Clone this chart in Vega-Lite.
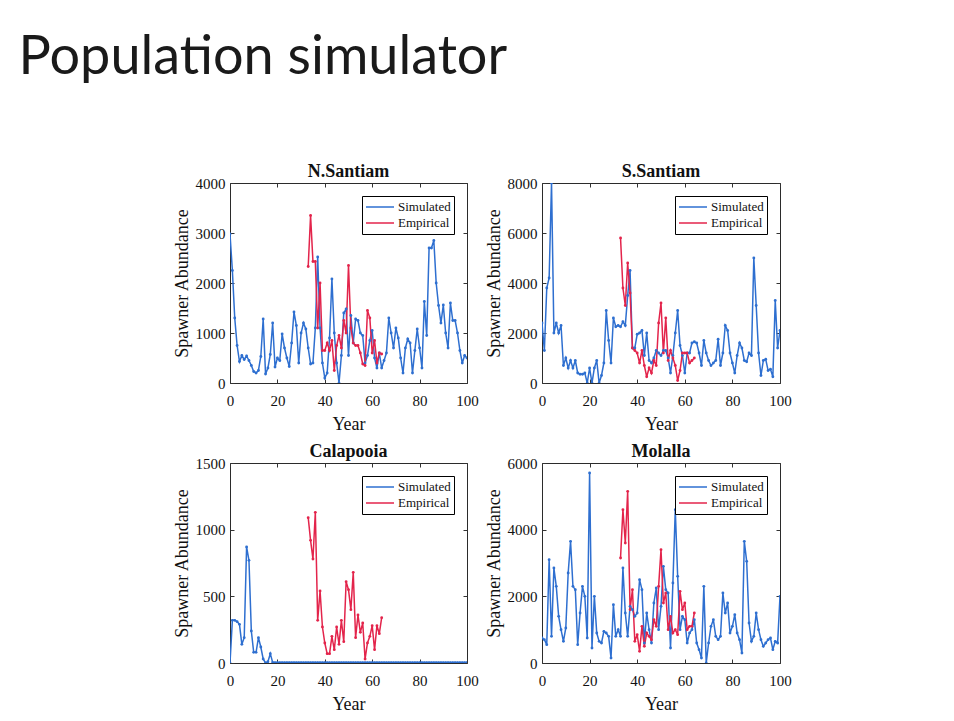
{
"$schema": "https://vega.github.io/schema/vega-lite/v6.json",
"background": "white",
"padding": {"left": 18, "top": 30, "right": 5, "bottom": 5},
"title": {"text": "Population simulator", "anchor": "start", "font": "Lato", "fontSize": 54, "fontWeight": "normal", "color": "#1a1a1a", "dx": -154, "offset": 78, "frame": "bounds"},
"config": {
 "font": "Liberation Serif",
 "view": {"stroke": "#2b2b2b", "strokeWidth": 1},
 "axis": {"grid": false, "domain": false, "format": "d", "labelFlush": false, "labelFont": "Liberation Serif", "labelFontSize": 15, "labelColor": "#111", "titleFont": "Liberation Serif", "titleFontSize": 18, "titleFontWeight": "normal", "titleColor": "#111", "tickColor": "#333", "tickSize": -4},
 "axisX": {"labelPadding": 14, "titlePadding": 7},
 "axisY": {"labelPadding": 9, "titlePadding": 4},
 "title": {"font": "Liberation Serif", "fontSize": 18, "fontWeight": "bold", "color": "#111", "offset": -5},
 "legend": {"orient": "top-right", "offset": 13, "strokeColor": "#000", "fillColor": "#fff", "padding": 3, "labelFont": "Liberation Serif", "labelFontSize": 13, "labelColor": "#111", "symbolType": "stroke", "symbolSize": 784, "symbolStrokeWidth": 1.5, "clipHeight": 16, "rowPadding": 0, "titlePadding": 0, "labelOffset": 3, "cornerRadius": 0}
},
"datasets": {
"ns": [
{"year":0,"Simulated":2980},{"year":1,"Simulated":2250},{"year":2,"Simulated":1300},{"year":3,"Simulated":750},{"year":4,"Simulated":430},{"year":5,"Simulated":550},{"year":6,"Simulated":470},{"year":7,"Simulated":540},{"year":8,"Simulated":450},{"year":9,"Simulated":350},
{"year":10,"Simulated":230},{"year":11,"Simulated":200},{"year":12,"Simulated":250},{"year":13,"Simulated":530},{"year":14,"Simulated":1280},{"year":15,"Simulated":180},{"year":16,"Simulated":300},{"year":17,"Simulated":570},{"year":18,"Simulated":1200},{"year":19,"Simulated":320},
{"year":20,"Simulated":500},{"year":21,"Simulated":450},{"year":22,"Simulated":980},{"year":23,"Simulated":700},{"year":24,"Simulated":500},{"year":25,"Simulated":330},{"year":26,"Simulated":800},{"year":27,"Simulated":1420},{"year":28,"Simulated":1150},{"year":29,"Simulated":400},
{"year":30,"Simulated":1000},{"year":31,"Simulated":1200},{"year":32,"Simulated":1080},{"year":33,"Simulated":700,"Empirical":2330},{"year":34,"Simulated":380,"Empirical":3350},{"year":35,"Simulated":400,"Empirical":2430},{"year":36,"Simulated":1100,"Empirical":2430},{"year":37,"Simulated":2520,"Empirical":1100},{"year":38,"Simulated":1100,"Empirical":2000},{"year":39,"Simulated":400,"Empirical":650},
{"year":40,"Simulated":100,"Empirical":650},{"year":41,"Simulated":200,"Empirical":800},{"year":42,"Simulated":900,"Empirical":650},{"year":43,"Simulated":2080,"Empirical":850},{"year":44,"Simulated":1000,"Empirical":250},{"year":45,"Simulated":400,"Empirical":750},{"year":46,"Simulated":0,"Empirical":950},{"year":47,"Simulated":550,"Empirical":700},{"year":48,"Simulated":1400,"Empirical":1250},{"year":49,"Simulated":1480,"Empirical":1000},
{"year":50,"Simulated":550,"Empirical":2350},{"year":51,"Simulated":1350,"Empirical":1100},{"year":52,"Simulated":800,"Empirical":800},{"year":53,"Simulated":1280,"Empirical":750},{"year":54,"Simulated":1250,"Empirical":750},{"year":55,"Simulated":1000,"Empirical":600},{"year":56,"Simulated":950,"Empirical":380},{"year":57,"Simulated":400,"Empirical":350},{"year":58,"Simulated":550,"Empirical":1450},{"year":59,"Simulated":850,"Empirical":1300},
{"year":60,"Simulated":1050,"Empirical":600},{"year":61,"Simulated":500,"Empirical":850},{"year":62,"Simulated":300,"Empirical":400},{"year":63,"Simulated":600,"Empirical":600},{"year":64,"Simulated":300,"Empirical":580},{"year":65,"Simulated":450},{"year":66,"Simulated":600},{"year":67,"Simulated":1300},{"year":68,"Simulated":1000},{"year":69,"Simulated":700},
{"year":70,"Simulated":1100},{"year":71,"Simulated":900},{"year":72,"Simulated":500},{"year":73,"Simulated":200},{"year":74,"Simulated":700},{"year":75,"Simulated":880},{"year":76,"Simulated":800},{"year":77,"Simulated":200},{"year":78,"Simulated":650},{"year":79,"Simulated":1080},
{"year":80,"Simulated":700},{"year":81,"Simulated":300},{"year":82,"Simulated":1630},{"year":83,"Simulated":950},{"year":84,"Simulated":2700},{"year":85,"Simulated":2700},{"year":86,"Simulated":2850},{"year":87,"Simulated":2000},{"year":88,"Simulated":1550},{"year":89,"Simulated":1200},
{"year":90,"Simulated":1560},{"year":91,"Simulated":1000},{"year":92,"Simulated":700},{"year":93,"Simulated":1600},{"year":94,"Simulated":1250},{"year":95,"Simulated":1250},{"year":96,"Simulated":1000},{"year":97,"Simulated":650},{"year":98,"Simulated":400},{"year":99,"Simulated":550},{"year":100,"Simulated":500}
],
"ss": [
{"year":0,"Simulated":2400},{"year":1,"Simulated":1300},{"year":2,"Simulated":3800},{"year":3,"Simulated":4200},{"year":4,"Simulated":8000},{"year":5,"Simulated":2000},{"year":6,"Simulated":2400},{"year":7,"Simulated":2000},{"year":8,"Simulated":2300},{"year":9,"Simulated":700},
{"year":10,"Simulated":1000},{"year":11,"Simulated":600},{"year":12,"Simulated":900},{"year":13,"Simulated":600},{"year":14,"Simulated":900},{"year":15,"Simulated":400},{"year":16,"Simulated":350},{"year":17,"Simulated":350},{"year":18,"Simulated":400},{"year":19,"Simulated":0},
{"year":20,"Simulated":600},{"year":21,"Simulated":0},{"year":22,"Simulated":600},{"year":23,"Simulated":900},{"year":24,"Simulated":0},{"year":25,"Simulated":300},{"year":26,"Simulated":800},{"year":27,"Simulated":2900},{"year":28,"Simulated":1700},{"year":29,"Simulated":800},
{"year":30,"Simulated":2600},{"year":31,"Simulated":2250},{"year":32,"Simulated":2300},{"year":33,"Simulated":2250,"Empirical":5800},{"year":34,"Simulated":2450,"Empirical":3800},{"year":35,"Simulated":2300,"Empirical":3100},{"year":36,"Simulated":3500,"Empirical":4800},{"year":37,"Simulated":4500,"Empirical":3600},{"year":38,"Simulated":1400,"Empirical":1400},{"year":39,"Simulated":1400,"Empirical":1300},
{"year":40,"Simulated":1950,"Empirical":1200},{"year":41,"Simulated":2000,"Empirical":800},{"year":42,"Simulated":2100,"Empirical":1300},{"year":43,"Simulated":1100,"Empirical":700},{"year":44,"Simulated":2000,"Empirical":250},{"year":45,"Simulated":900,"Empirical":600},{"year":46,"Simulated":800,"Empirical":400},{"year":47,"Simulated":1000,"Empirical":900},{"year":48,"Simulated":1300,"Empirical":700},{"year":49,"Simulated":1200,"Empirical":2400},
{"year":50,"Simulated":1100,"Empirical":3200},{"year":51,"Simulated":1300,"Empirical":1200},{"year":52,"Simulated":1300,"Empirical":2600},{"year":53,"Simulated":1000,"Empirical":900},{"year":54,"Simulated":400,"Empirical":1300},{"year":55,"Simulated":1100,"Empirical":1000},{"year":56,"Simulated":2000,"Empirical":700},{"year":57,"Simulated":2900,"Empirical":100},{"year":58,"Simulated":1500,"Empirical":500},{"year":59,"Simulated":1100,"Empirical":1200},
{"year":60,"Simulated":400,"Empirical":1200},{"year":61,"Simulated":1200,"Empirical":1200},{"year":62,"Simulated":1200,"Empirical":800},{"year":63,"Simulated":1600,"Empirical":900},{"year":64,"Simulated":1650,"Empirical":1000},{"year":65,"Simulated":1600},{"year":66,"Simulated":1200},{"year":67,"Simulated":700},{"year":68,"Simulated":1700},{"year":69,"Simulated":1200},
{"year":70,"Simulated":900},{"year":71,"Simulated":700},{"year":72,"Simulated":800},{"year":73,"Simulated":900},{"year":74,"Simulated":1750},{"year":75,"Simulated":700},{"year":76,"Simulated":1200},{"year":77,"Simulated":2300},{"year":78,"Simulated":2100},{"year":79,"Simulated":1200},
{"year":80,"Simulated":800},{"year":81,"Simulated":400},{"year":82,"Simulated":1100},{"year":83,"Simulated":1600},{"year":84,"Simulated":1400},{"year":85,"Simulated":900},{"year":86,"Simulated":850},{"year":87,"Simulated":1200},{"year":88,"Simulated":1100},{"year":89,"Simulated":5000},
{"year":90,"Simulated":3100},{"year":91,"Simulated":1200},{"year":92,"Simulated":300},{"year":93,"Simulated":900},{"year":94,"Simulated":950},{"year":95,"Simulated":500},{"year":96,"Simulated":550},{"year":97,"Simulated":250},{"year":98,"Simulated":3300},{"year":99,"Simulated":1400},{"year":100,"Simulated":2100}
],
"cal": [
{"year":0,"Simulated":0},{"year":1,"Simulated":320},{"year":2,"Simulated":320},{"year":3,"Simulated":310},{"year":4,"Simulated":290},{"year":5,"Simulated":140},{"year":6,"Simulated":190},{"year":7,"Simulated":870},{"year":8,"Simulated":770},{"year":9,"Simulated":240},
{"year":10,"Simulated":80},{"year":11,"Simulated":80},{"year":12,"Simulated":190},{"year":13,"Simulated":120},{"year":14,"Simulated":30},{"year":15,"Simulated":0},{"year":16,"Simulated":10},{"year":17,"Simulated":70},{"year":18,"Simulated":5},{"year":19,"Simulated":3},
{"year":20,"Simulated":3},{"year":21,"Simulated":3},{"year":22,"Simulated":3},{"year":23,"Simulated":3},{"year":24,"Simulated":3},{"year":25,"Simulated":3},{"year":26,"Simulated":3},{"year":27,"Simulated":3},{"year":28,"Simulated":3},{"year":29,"Simulated":3},
{"year":30,"Simulated":3},{"year":31,"Simulated":3},{"year":32,"Simulated":3},{"year":33,"Simulated":3,"Empirical":1090},{"year":34,"Simulated":3,"Empirical":920},{"year":35,"Simulated":3,"Empirical":780},{"year":36,"Simulated":3,"Empirical":1130},{"year":37,"Simulated":3,"Empirical":320},{"year":38,"Simulated":3,"Empirical":540},{"year":39,"Simulated":3,"Empirical":270},
{"year":40,"Simulated":3,"Empirical":150},{"year":41,"Simulated":3,"Empirical":70},{"year":42,"Simulated":3,"Empirical":70},{"year":43,"Simulated":3,"Empirical":200},{"year":44,"Simulated":3,"Empirical":100},{"year":45,"Simulated":3,"Empirical":270},{"year":46,"Simulated":3,"Empirical":140},{"year":47,"Simulated":3,"Empirical":320},{"year":48,"Simulated":3,"Empirical":160},{"year":49,"Simulated":3,"Empirical":610},
{"year":50,"Simulated":3,"Empirical":550},{"year":51,"Simulated":3,"Empirical":400},{"year":52,"Simulated":3,"Empirical":680},{"year":53,"Simulated":3,"Empirical":190},{"year":54,"Simulated":3,"Empirical":360},{"year":55,"Simulated":3,"Empirical":230},{"year":56,"Simulated":3,"Empirical":300},{"year":57,"Simulated":3,"Empirical":30},{"year":58,"Simulated":3,"Empirical":150},{"year":59,"Simulated":3,"Empirical":200},
{"year":60,"Simulated":3,"Empirical":280},{"year":61,"Simulated":3,"Empirical":100},{"year":62,"Simulated":3,"Empirical":280},{"year":63,"Simulated":3,"Empirical":220},{"year":64,"Simulated":3,"Empirical":340},{"year":65,"Simulated":3},{"year":66,"Simulated":3},{"year":67,"Simulated":3},{"year":68,"Simulated":3},{"year":69,"Simulated":3},
{"year":70,"Simulated":3},{"year":71,"Simulated":3},{"year":72,"Simulated":3},{"year":73,"Simulated":3},{"year":74,"Simulated":3},{"year":75,"Simulated":3},{"year":76,"Simulated":3},{"year":77,"Simulated":3},{"year":78,"Simulated":3},{"year":79,"Simulated":3},
{"year":80,"Simulated":3},{"year":81,"Simulated":3},{"year":82,"Simulated":3},{"year":83,"Simulated":3},{"year":84,"Simulated":3},{"year":85,"Simulated":3},{"year":86,"Simulated":3},{"year":87,"Simulated":3},{"year":88,"Simulated":3},{"year":89,"Simulated":3},
{"year":90,"Simulated":3},{"year":91,"Simulated":3},{"year":92,"Simulated":3},{"year":93,"Simulated":3},{"year":94,"Simulated":3},{"year":95,"Simulated":3},{"year":96,"Simulated":3},{"year":97,"Simulated":3},{"year":98,"Simulated":3},{"year":99,"Simulated":3},{"year":100,"Simulated":3}
],
"mol": [
{"year":0,"Simulated":750},{"year":1,"Simulated":700},{"year":2,"Simulated":550},{"year":3,"Simulated":3100},{"year":4,"Simulated":800},{"year":5,"Simulated":2850},{"year":6,"Simulated":2300},{"year":7,"Simulated":1400},{"year":8,"Simulated":1000},{"year":9,"Simulated":650},
{"year":10,"Simulated":1050},{"year":11,"Simulated":2700},{"year":12,"Simulated":3650},{"year":13,"Simulated":2300},{"year":14,"Simulated":2200},{"year":15,"Simulated":550},{"year":16,"Simulated":1500},{"year":17,"Simulated":2300},{"year":18,"Simulated":2000},{"year":19,"Simulated":750},
{"year":20,"Simulated":5700},{"year":21,"Simulated":450},{"year":22,"Simulated":2000},{"year":23,"Simulated":900},{"year":24,"Simulated":650},{"year":25,"Simulated":600},{"year":26,"Simulated":950},{"year":27,"Simulated":900},{"year":28,"Simulated":800},{"year":29,"Simulated":150},
{"year":30,"Simulated":1750},{"year":31,"Simulated":800},{"year":32,"Simulated":1000},{"year":33,"Simulated":800,"Empirical":3150},{"year":34,"Simulated":2850,"Empirical":4600},{"year":35,"Simulated":1500,"Empirical":3600},{"year":36,"Simulated":800,"Empirical":5150},{"year":37,"Simulated":1700,"Empirical":1600},{"year":38,"Simulated":1600,"Empirical":2200},{"year":39,"Simulated":1400,"Empirical":650},
{"year":40,"Simulated":1500,"Empirical":850},{"year":41,"Simulated":2500,"Empirical":350},{"year":42,"Simulated":2200,"Empirical":1100},{"year":43,"Simulated":600,"Empirical":500},{"year":44,"Simulated":1500,"Empirical":900},{"year":45,"Simulated":1000,"Empirical":800},{"year":46,"Simulated":600,"Empirical":700},{"year":47,"Simulated":1800,"Empirical":1300},{"year":48,"Simulated":2250,"Empirical":1100},{"year":49,"Simulated":1000,"Empirical":2300},
{"year":50,"Simulated":1700,"Empirical":3400},{"year":51,"Simulated":2900,"Empirical":1800},{"year":52,"Simulated":2200,"Empirical":2100},{"year":53,"Simulated":2100,"Empirical":1000},{"year":54,"Simulated":450,"Empirical":1400},{"year":55,"Simulated":2400,"Empirical":900},{"year":56,"Simulated":4600,"Empirical":1000},{"year":57,"Simulated":2600,"Empirical":850},{"year":58,"Simulated":1000,"Empirical":2150},{"year":59,"Simulated":1400,"Empirical":1600},
{"year":60,"Simulated":1300,"Empirical":1800},{"year":61,"Simulated":600,"Empirical":1000},{"year":62,"Simulated":900,"Empirical":1100},{"year":63,"Simulated":1000,"Empirical":1100},{"year":64,"Simulated":1300,"Empirical":1500},{"year":65,"Simulated":600},{"year":66,"Simulated":400},{"year":67,"Simulated":150},{"year":68,"Simulated":2300},{"year":69,"Simulated":0},
{"year":70,"Simulated":600},{"year":71,"Simulated":1100},{"year":72,"Simulated":1300},{"year":73,"Simulated":800},{"year":74,"Simulated":700},{"year":75,"Simulated":800},{"year":76,"Simulated":2100},{"year":77,"Simulated":1500},{"year":78,"Simulated":1800},{"year":79,"Simulated":900},
{"year":80,"Simulated":1100},{"year":81,"Simulated":1450},{"year":82,"Simulated":900},{"year":83,"Simulated":700},{"year":84,"Simulated":300},{"year":85,"Simulated":3650},{"year":86,"Simulated":3050},{"year":87,"Simulated":1200},{"year":88,"Simulated":650},{"year":89,"Simulated":800},
{"year":90,"Simulated":1500},{"year":91,"Simulated":1000},{"year":92,"Simulated":700},{"year":93,"Simulated":500},{"year":94,"Simulated":600},{"year":95,"Simulated":700},{"year":96,"Simulated":750},{"year":97,"Simulated":400},{"year":98,"Simulated":650},{"year":99,"Simulated":600},{"year":100,"Simulated":2000}
]
},
"columns": 2,
"bounds": "flush",
"spacing": {"row": 80, "column": 75},
"resolve": {"legend": {"color": "independent"}, "scale": {"color": "independent"}},
"concat": [
{
 "title": "N.Santiam", "width": 237, "height": 200,
 "data": {"name": "ns"},
 "transform": [{"fold": ["Simulated", "Empirical"], "as": ["series", "count"]}, {"filter": "isValid(datum.count)"}],
 "resolve": {"axis": {"x": "independent", "y": "independent"}},
 "layer": [
  {
   "mark": {"type": "line", "strokeWidth": 1.5, "clip": true, "point": {"filled": true, "size": 8}},
   "encoding": {
    "x": {"field": "year", "type": "quantitative", "title": "Year", "scale": {"domain": [0, 100], "nice": false}, "axis": {"values": [0, 20, 40, 60, 80, 100]}},
    "y": {"field": "count", "type": "quantitative", "title": "Spawner Abundance", "scale": {"domain": [0, 4000], "nice": false}, "axis": {"values": [0, 1000, 2000, 3000, 4000]}},
    "color": {"field": "series", "type": "nominal", "scale": {"domain": ["Simulated", "Empirical"], "range": ["#2e6fd0", "#e3244b"]}, "legend": {"title": null}}
   }
  },
  {
   "mark": {"type": "point", "opacity": 0, "clip": true},
   "encoding": {
    "x": {"field": "year", "type": "quantitative", "scale": {"domain": [0, 100], "nice": false}, "axis": {"orient": "top", "labels": false, "title": null, "values": [0, 20, 40, 60, 80, 100]}},
    "y": {"field": "count", "type": "quantitative", "scale": {"domain": [0, 4000], "nice": false}, "axis": {"orient": "right", "labels": false, "title": null, "values": [0, 1000, 2000, 3000, 4000]}}
   }
  }
 ]
},
{
 "title": "S.Santiam", "width": 238, "height": 200,
 "data": {"name": "ss"},
 "transform": [{"fold": ["Simulated", "Empirical"], "as": ["series", "count"]}, {"filter": "isValid(datum.count)"}],
 "resolve": {"axis": {"x": "independent", "y": "independent"}},
 "layer": [
  {
   "mark": {"type": "line", "strokeWidth": 1.5, "clip": true, "point": {"filled": true, "size": 8}},
   "encoding": {
    "x": {"field": "year", "type": "quantitative", "title": "Year", "scale": {"domain": [0, 100], "nice": false}, "axis": {"values": [0, 20, 40, 60, 80, 100]}},
    "y": {"field": "count", "type": "quantitative", "title": "Spawner Abundance", "scale": {"domain": [0, 8000], "nice": false}, "axis": {"values": [0, 2000, 4000, 6000, 8000]}},
    "color": {"field": "series", "type": "nominal", "scale": {"domain": ["Simulated", "Empirical"], "range": ["#2e6fd0", "#e3244b"]}, "legend": {"title": null}}
   }
  },
  {
   "mark": {"type": "point", "opacity": 0, "clip": true},
   "encoding": {
    "x": {"field": "year", "type": "quantitative", "scale": {"domain": [0, 100], "nice": false}, "axis": {"orient": "top", "labels": false, "title": null, "values": [0, 20, 40, 60, 80, 100]}},
    "y": {"field": "count", "type": "quantitative", "scale": {"domain": [0, 8000], "nice": false}, "axis": {"orient": "right", "labels": false, "title": null, "values": [0, 2000, 4000, 6000, 8000]}}
   }
  }
 ]
},
{
 "title": "Calapooia", "width": 237, "height": 200,
 "data": {"name": "cal"},
 "transform": [{"fold": ["Simulated", "Empirical"], "as": ["series", "count"]}, {"filter": "isValid(datum.count)"}],
 "resolve": {"axis": {"x": "independent", "y": "independent"}},
 "layer": [
  {
   "mark": {"type": "line", "strokeWidth": 1.5, "clip": true, "point": {"filled": true, "size": 8}},
   "encoding": {
    "x": {"field": "year", "type": "quantitative", "title": "Year", "scale": {"domain": [0, 100], "nice": false}, "axis": {"values": [0, 20, 40, 60, 80, 100]}},
    "y": {"field": "count", "type": "quantitative", "title": "Spawner Abundance", "scale": {"domain": [0, 1500], "nice": false}, "axis": {"values": [0, 500, 1000, 1500]}},
    "color": {"field": "series", "type": "nominal", "scale": {"domain": ["Simulated", "Empirical"], "range": ["#2e6fd0", "#e3244b"]}, "legend": {"title": null}}
   }
  },
  {
   "mark": {"type": "point", "opacity": 0, "clip": true},
   "encoding": {
    "x": {"field": "year", "type": "quantitative", "scale": {"domain": [0, 100], "nice": false}, "axis": {"orient": "top", "labels": false, "title": null, "values": [0, 20, 40, 60, 80, 100]}},
    "y": {"field": "count", "type": "quantitative", "scale": {"domain": [0, 1500], "nice": false}, "axis": {"orient": "right", "labels": false, "title": null, "values": [0, 500, 1000, 1500]}}
   }
  }
 ]
},
{
 "title": "Molalla", "width": 238, "height": 200,
 "data": {"name": "mol"},
 "transform": [{"fold": ["Simulated", "Empirical"], "as": ["series", "count"]}, {"filter": "isValid(datum.count)"}],
 "resolve": {"axis": {"x": "independent", "y": "independent"}},
 "layer": [
  {
   "mark": {"type": "line", "strokeWidth": 1.5, "clip": true, "point": {"filled": true, "size": 8}},
   "encoding": {
    "x": {"field": "year", "type": "quantitative", "title": "Year", "scale": {"domain": [0, 100], "nice": false}, "axis": {"values": [0, 20, 40, 60, 80, 100]}},
    "y": {"field": "count", "type": "quantitative", "title": "Spawner Abundance", "scale": {"domain": [0, 6000], "nice": false}, "axis": {"values": [0, 2000, 4000, 6000]}},
    "color": {"field": "series", "type": "nominal", "scale": {"domain": ["Simulated", "Empirical"], "range": ["#2e6fd0", "#e3244b"]}, "legend": {"title": null}}
   }
  },
  {
   "mark": {"type": "point", "opacity": 0, "clip": true},
   "encoding": {
    "x": {"field": "year", "type": "quantitative", "scale": {"domain": [0, 100], "nice": false}, "axis": {"orient": "top", "labels": false, "title": null, "values": [0, 20, 40, 60, 80, 100]}},
    "y": {"field": "count", "type": "quantitative", "scale": {"domain": [0, 6000], "nice": false}, "axis": {"orient": "right", "labels": false, "title": null, "values": [0, 2000, 4000, 6000]}}
   }
  }
 ]
}
]
}
